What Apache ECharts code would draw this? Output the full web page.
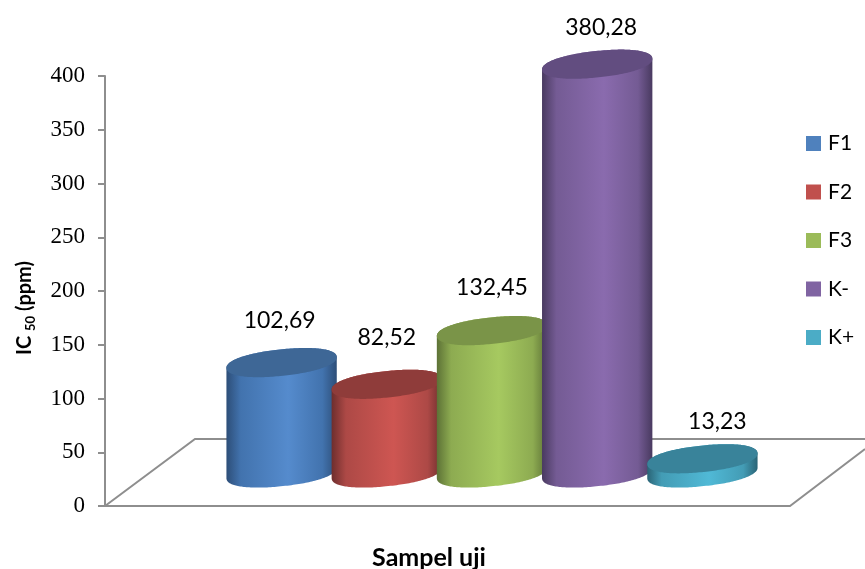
<!DOCTYPE html>
<html><head><meta charset="utf-8">
<style>html,body{margin:0;padding:0;background:#fff}#c{width:865px;height:569px}</style>
<script src="https://cdn.jsdelivr.net/npm/echarts@6/dist/echarts.min.js"></script>
</head><body><div id="c"></div>
<script>
const categories = ['F1','F2','F3','K-','K+'];
const values = [102.69, 82.52, 132.45, 380.28, 13.23];
const yTicks = [0,50,100,150,200,250,300,350,400];

const palette = {
  'F1':{legend:'#4F81BD',top:'#3E6796',edge:'#2D4E78',mid:'#4273AE',peak:'#558BCD'},
  'F2':{legend:'#C0504D',top:'#8F3C3A',edge:'#6E2E2D',mid:'#AD4946',peak:'#CE5652'},
  'F3':{legend:'#9BBB59',top:'#7A9448',edge:'#5D7236',mid:'#8DAB51',peak:'#A6C960'},
  'K-':{legend:'#8064A2',top:'#624D80',edge:'#493A60',mid:'#745B94',peak:'#8A6BAE'},
  'K+':{legend:'#4BACC6',top:'#39839A',edge:'#2A6476',mid:'#439CB5',peak:'#50B9D6'}
};
const labelNudge = {'F1':[-2,-28],'F2':[0,-33],'F3':[0,-29],'K-':[4,-23],'K+':[15,-23]};
const BASE_DEPTH = 33, TILT = 6*Math.PI/180, SANS = 'Lato', ROUNDNESS = 0.92;

function spow(a){ return Math.sign(a)*Math.pow(Math.abs(a),ROUNDNESS); }
function ellipsePt(cx,cy,rx,ry,t){
  const c = spow(Math.cos(t)), s = spow(Math.sin(t));
  return [cx+rx*c*Math.cos(TILT)+ry*s*Math.sin(TILT),
          cy-rx*c*Math.sin(TILT)+ry*s*Math.cos(TILT)];
}
function outline(cx,cy,rx,ry){
  const p=[];for(let i=0;i<192;i++)p.push(ellipsePt(cx,cy,rx,ry,i/192*2*Math.PI));return p;
}
function extremes(p){
  let lo=0,hi=0;p.forEach((q,i)=>{if(q[0]<p[lo][0])lo=i;if(q[0]>p[hi][0])hi=i;});return [lo,hi];
}
function walk(p,from,to){
  const out=[];let i=from;while(true){out.push(p[i]);if(i===to)break;i=(i+1)%p.length;}return out;
}
function makeRender(name){
  const col = palette[name];
  return function(params,api){
    const idx = api.value(0), v = api.value(1);
    const base = api.coord([idx,0]), head = api.coord([idx,v]);
    const cx = base[0], by = base[1]-BASE_DEPTH, ty = head[1]-BASE_DEPTH;
    const rx = api.size([1,0])[0]*0.527, ry = rx*0.238;
    const bot = outline(cx,by,rx,ry), top = outline(cx,ty,rx,ry);
    const [lo,hi] = extremes(bot);
    const body = walk(bot,hi,lo).concat(walk(top,lo,hi));
    const grad = new echarts.graphic.LinearGradient(0,0,1,0,[
      {offset:0,color:col.edge},{offset:0.13,color:col.mid},{offset:0.56,color:col.peak},
      {offset:0.87,color:col.mid},{offset:1,color:col.edge}]);
    const nudge = labelNudge[name];
    return {type:'group',children:[
      {type:'polygon',shape:{points:body},style:{fill:grad}},
      {type:'polygon',shape:{points:top},style:{fill:col.top}},
      {type:'text',style:{text:v.toFixed(2).replace('.',','),x:cx+nudge[0],y:ty-14+nudge[1],
        align:'center',verticalAlign:'middle',fill:'#000',font:'23px '+SANS}}
    ]};
  };
}
const series = categories.map((c,i)=>({
  name:c,type:'custom',coordinateSystem:'cartesian2d',clip:false,
  itemStyle:{color:palette[c].legend},
  encode:{x:0,y:1},
  data:[[i,values[i]]],
  renderItem:makeRender(c)
}));
const axisGray = '#8E8E8E';
const chart = echarts.init(document.getElementById('c'),null,{renderer:'canvas'});
chart.setOption({
  animation:false,
  backgroundColor:'#fff',
  grid:{left:229,width:526,top:76,height:430,containLabel:false,outerBoundsMode:'none'},
  legend:{orient:'vertical',left:806,top:133,padding:0,itemWidth:15,itemHeight:15,itemGap:27.5,icon:'rect',
    textStyle:{fontFamily:SANS,fontSize:21,color:'#000',padding:[0,0,0,2]},data:categories},
  xAxis:{type:'category',data:categories,
    axisLine:{show:false},axisTick:{show:false},axisLabel:{show:false},splitLine:{show:false},
    name:'Sampel uji',nameLocation:'middle',nameGap:39,
    nameTextStyle:{fontFamily:SANS,fontWeight:'bold',fontSize:25,color:'#000',padding:[0,126,0,0]}},
  yAxis:{type:'value',min:0,max:400,interval:50,offset:124,
    axisLine:{show:true,lineStyle:{color:axisGray,width:2}},
    axisTick:{show:true,length:7,lineStyle:{color:axisGray,width:2}},
    axisLabel:{margin:20,fontFamily:'Liberation Serif',fontSize:23,color:'#000',
      formatter:v=>yTicks.includes(v)?String(v):''},
    splitLine:{show:false},
    name:'{b|IC }{s|50}{b| (ppm)}',nameLocation:'middle',nameRotate:90,nameGap:68,
    nameTextStyle:{padding:[0,34,0,0],rich:{
      b:{fontFamily:SANS,fontWeight:'bold',fontSize:20,color:'#000',lineHeight:24},
      s:{fontFamily:SANS,fontWeight:'bold',fontSize:13,color:'#000',lineHeight:24,verticalAlign:'bottom'}}}},
  graphic:[
    {type:'polyline',z:0,shape:{points:[[105,506],[195,439],[865,439]]},style:{stroke:axisGray,lineWidth:2,fill:null}},
    {type:'polyline',z:0,shape:{points:[[105,506],[790,506],[865,449]]},style:{stroke:axisGray,lineWidth:2,fill:null}}
  ],
  series:series
});
</script></body></html>
